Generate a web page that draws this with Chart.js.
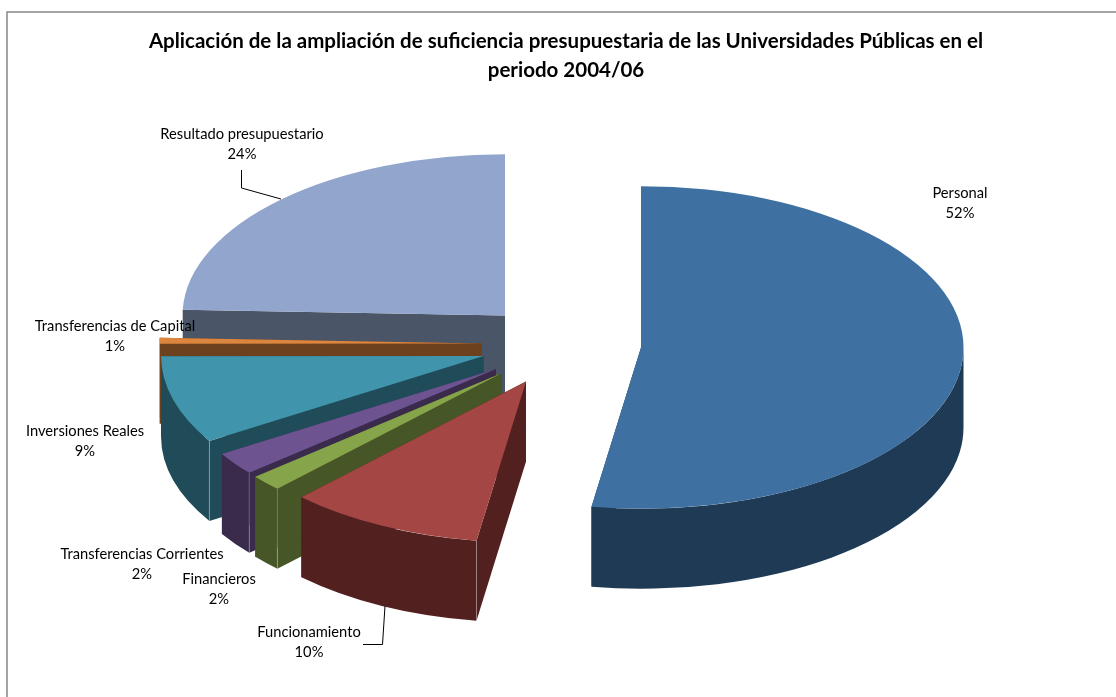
<!DOCTYPE html>
<html>
<head>
<meta charset="utf-8">
<title>Universidades Públicas</title>
<style>
  html, body { margin: 0; padding: 0; background: #fff; overflow: hidden; }
  canvas { display: block; }
</style>
<script src="https://cdn.jsdelivr.net/npm/chart.js@4"></script>
</head>
<body>
<canvas id="pieChart" width="1116" height="697"></canvas>
<script>
// Data
var categories = ['Personal', 'Funcionamiento', 'Financieros', 'Transferencias Corrientes', 'Inversiones Reales', 'Transferencias de Capital', 'Resultado presupuestario'];
var shares = [52.4, 9.8, 1.6, 2.3, 8.8, 0.6, 24.4];
var titleLines = ['Aplicación de la ampliación de suficiencia presupuestaria de las Universidades Públicas en el', 'periodo 2004/06'];

// Styles
var topColors = ['#3e70a1', '#a44643', '#86a44a', '#6d5490', '#4094ab', '#dc853e', '#92a6cd'];
var wallColors = ['#1e3a55', '#532020', '#465626', '#3a2b4d', '#204c5a', '#6d411e', '#4a5568'];

// 3D look: tilt of the pie, height of the walls, how far each slice is pulled out
var tilt = 0.5;
var depth = 80;
var explode = [[75, -42.3], [-40, -8.3], [-64, -16.8], [-70, -20.8], [-82.5, -33.8], [-84, -46.3], [-61, -74.3]];

// Label anchors (centre x, first line y) and leader lines
var labelAnchors = [[960, 193], [309, 632], [219, 579], [142, 554], [85, 431], [115, 326], [242, 134]];
var leaders = [
    [[241.5, 170], [241.5, 188], [281, 199]],
    [[363, 644.5], [382.5, 644.5], [385, 606]]
];

function drawWalls(ctx, arc, cx, cy) {
    var r = arc.outerRadius;
    // the two cut sides
    [arc.startAngle, arc.endAngle].forEach(function(angle) {
        var ex = r * Math.cos(angle);
        var ey = r * Math.sin(angle) * tilt;
        ctx.beginPath();
        ctx.moveTo(cx, cy);
        ctx.lineTo(cx + ex, cy + ey);
        ctx.lineTo(cx + ex, cy + ey + depth);
        ctx.lineTo(cx, cy + depth);
        ctx.closePath();
        ctx.fill();
    });
    // the rim, only the part that faces the viewer (canvas angles 0 to PI)
    var from = Math.max(arc.startAngle, 0);
    var to = Math.min(arc.endAngle, Math.PI);
    if (from < to) {
        ctx.beginPath();
        ctx.ellipse(cx, cy, r, r * tilt, 0, from, to);
        ctx.ellipse(cx, cy + depth, r, r * tilt, 0, to, from, true);
        ctx.closePath();
        ctx.fill();
    }
}

var pie3d = {
    id: 'pie3d',
    beforeDraw: function(chart) {
        // frame: only the left and top edges show in the picture
        var ctx = chart.ctx;
        ctx.save();
        ctx.strokeStyle = '#868686';
        ctx.lineWidth = 1.5;
        ctx.beginPath();
        ctx.moveTo(7, 697);
        ctx.lineTo(7, 12);
        ctx.lineTo(1116, 12);
        ctx.stroke();
        ctx.restore();
    },
    beforeDatasetDraw: function(chart, args) {
        var ctx = chart.ctx;
        var arcs = args.meta.data;
        // back slices first, so the front ones cover them
        for (var i = arcs.length - 1; i >= 0; i--) {
            var arc = arcs[i];
            var cx = arc.x + explode[i][0];
            var cy = arc.y + explode[i][1];

            ctx.save();
            ctx.fillStyle = wallColors[i];
            drawWalls(ctx, arc, cx, cy);
            ctx.restore();

            // thin light seam where the rim meets the cut side
            var fromTop = arc.startAngle + Math.PI / 2;
            if (fromTop > Math.PI && fromTop < Math.PI * 1.5) {
                var sx = cx + arc.outerRadius * Math.cos(arc.startAngle);
                var sy = cy + arc.outerRadius * Math.sin(arc.startAngle) * tilt;
                ctx.save();
                ctx.strokeStyle = 'rgba(255,255,255,0.25)';
                ctx.lineWidth = 1;
                ctx.beginPath();
                ctx.moveTo(sx, sy);
                ctx.lineTo(sx, sy + depth);
                ctx.stroke();
                ctx.restore();
            }

            ctx.save();
            ctx.translate(cx, cy);
            ctx.scale(1, tilt);
            ctx.translate(-arc.x, -arc.y);
            arc.draw(ctx);
            ctx.restore();
        }
        return false;
    },
    afterDatasetsDraw: function(chart) {
        var ctx = chart.ctx;
        var total = shares.reduce(function(a, b) { return a + b; }, 0);
        ctx.save();
        ctx.strokeStyle = '#000';
        ctx.lineWidth = 1;
        leaders.forEach(function(pts) {
            ctx.beginPath();
            pts.forEach(function(p, j) {
                if (j === 0) ctx.moveTo(p[0], p[1]); else ctx.lineTo(p[0], p[1]);
            });
            ctx.stroke();
        });
        ctx.fillStyle = '#000';
        ctx.font = '14.7px Lato';
        ctx.textAlign = 'center';
        ctx.textBaseline = 'middle';
        categories.forEach(function(name, i) {
            var a = labelAnchors[i];
            ctx.fillText(name, a[0], a[1]);
            ctx.fillText(Math.round(shares[i] / total * 100) + '%', a[0], a[1] + 20.5);
        });
        ctx.restore();
    }
};

new Chart(document.getElementById('pieChart').getContext('2d'), {
    type: 'pie',
    data: {
        labels: categories,
        datasets: [{
            data: shares,
            backgroundColor: topColors,
            borderWidth: 0,
            radius: 322.5
        }]
    },
    options: {
        responsive: false,
        animation: false,
        layout: { padding: { left: 16, bottom: 2.4 } },
        plugins: {
            legend: { display: false },
            tooltip: { enabled: false },
            title: {
                display: true,
                text: titleLines,
                color: '#000',
                font: { family: 'Lato', size: 20.5, weight: 'bold', lineHeight: 1.415 },
                padding: { top: 27, bottom: 0 }
            }
        }
    },
    plugins: [pie3d]
});
</script>
</body>
</html>
